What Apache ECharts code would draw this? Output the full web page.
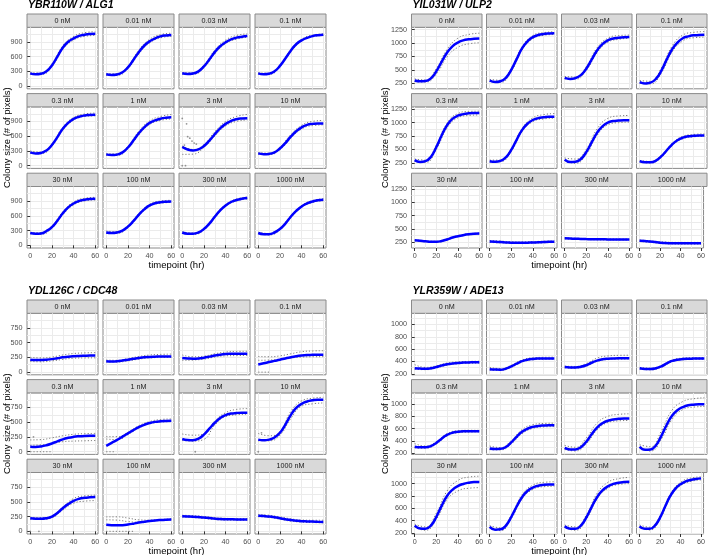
<!DOCTYPE html>
<html>
<head>
<meta charset="utf-8">
<title>Colony size over time</title>
<script src="https://cdn.jsdelivr.net/npm/echarts@6.0.0/dist/echarts.min.js"></script>
<style>
  html, body { margin: 0; padding: 0; background: #fff; }
  #chart { width: 708px; height: 555px; }
</style>
</head>
<body>
<div id="chart"></div>
<script>
// time grid of the fitted (blue) curves and of the replicate (grey) curves
var times = [0, 5, 10, 15, 20, 25, 30, 35, 40, 45, 50, 55, 60];
var repTimes = [0, 10, 20, 30, 40, 50, 60];
var doses = ['0 nM', '0.01 nM', '0.03 nM', '0.1 nM', '0.3 nM', '1 nM', '3 nM', '10 nM', '30 nM', '100 nM', '300 nM', '1000 nM'];

// ---- YBR110W / ALG1 ----
var alg1Fit = [
    [260, 240, 250, 300, 420, 600, 780, 900, 970, 1020, 1045, 1060, 1065],
    [240, 225, 235, 280, 380, 530, 690, 820, 910, 970, 1010, 1030, 1040],
    [260, 245, 255, 300, 400, 540, 690, 810, 890, 950, 985, 1005, 1020],
    [260, 240, 250, 300, 410, 560, 720, 850, 930, 980, 1015, 1035, 1045],
    [270, 250, 260, 310, 420, 580, 750, 870, 950, 995, 1020, 1030, 1035],
    [230, 215, 225, 270, 370, 510, 660, 780, 870, 920, 955, 975, 985],
    [380, 330, 310, 330, 400, 510, 640, 760, 850, 910, 945, 960, 965],
    [250, 235, 240, 270, 350, 460, 590, 700, 780, 830, 850, 860, 860],
    [250, 235, 240, 290, 370, 500, 650, 770, 850, 900, 925, 940, 945],
    [260, 250, 260, 300, 380, 490, 620, 730, 810, 855, 875, 885, 890],
    [260, 235, 235, 260, 330, 440, 580, 710, 810, 880, 920, 945, 960],
    [250, 225, 225, 260, 330, 440, 580, 700, 790, 850, 890, 915, 925]
];
var alg1Hi = [
    [275, 265, 450, 820, 1010, 1085, 1105],
    [255, 250, 405, 730, 950, 1045, 1075],
    [275, 270, 430, 730, 935, 1030, 1060],
    [272, 262, 425, 740, 950, 1035, 1060],
    [300, 275, 445, 780, 980, 1050, 1070],
    [245, 240, 395, 700, 910, 1000, 1040],
    [400, 330, 430, 690, 900, 1000, 1040],
    [265, 255, 380, 630, 820, 900, 920],
    [265, 255, 395, 680, 880, 955, 975],
    [290, 275, 400, 645, 835, 900, 915],
    [275, 250, 350, 600, 830, 940, 980],
    [265, 240, 350, 600, 810, 910, 945]
];
var alg1Lo = [
    [245, 235, 395, 745, 935, 1010, 1030],
    [225, 220, 355, 655, 875, 980, 1010],
    [245, 240, 375, 655, 860, 955, 990],
    [248, 238, 395, 700, 910, 1000, 1030],
    [255, 245, 400, 720, 925, 1000, 1015],
    [215, 210, 345, 625, 835, 920, 950],
    [230, 235, 370, 600, 810, 900, 930],
    [235, 225, 325, 555, 745, 815, 830],
    [235, 225, 345, 620, 820, 900, 920],
    [245, 245, 360, 600, 790, 855, 870],
    [245, 220, 310, 560, 790, 900, 940],
    [235, 210, 310, 560, 770, 870, 905]
];
var alg1Extra = [[], [], [], [], [], [], [], [], [], [], [], []];
var alg1Dots = [[], [], [], [], [], [],
    [[0, 960], [4, 850], [5, 590], [7, 560], [9, 500], [2, 420], [11, 460], [13, 440], [1, 380], [0, 0], [3, 0]],
    [], [], [], [], []];

// ---- YIL031W / ULP2 ----
var ulp2Fit = [
    [300, 285, 290, 340, 470, 650, 820, 940, 1010, 1050, 1070, 1080, 1085],
    [300, 270, 285, 350, 500, 700, 900, 1030, 1110, 1150, 1170, 1180, 1185],
    [350, 330, 345, 400, 520, 690, 860, 980, 1050, 1085, 1100, 1110, 1115],
    [270, 245, 260, 330, 480, 690, 880, 1010, 1090, 1125, 1145, 1150, 1155],
    [300, 265, 280, 360, 540, 760, 950, 1070, 1130, 1160, 1175, 1180, 1180],
    [280, 270, 285, 350, 490, 680, 860, 980, 1050, 1085, 1100, 1110, 1110],
    [310, 265, 270, 320, 450, 630, 810, 930, 1000, 1030, 1040, 1045, 1045],
    [280, 258, 260, 290, 370, 480, 590, 670, 720, 745, 755, 760, 760],
    [290, 280, 270, 262, 260, 275, 305, 340, 365, 385, 400, 410, 415],
    [265, 260, 255, 250, 245, 242, 242, 245, 248, 252, 256, 260, 262],
    [325, 322, 318, 315, 312, 310, 308, 307, 306, 305, 305, 304, 304],
    [280, 275, 265, 255, 245, 238, 235, 233, 232, 232, 232, 232, 232]
];
var ulp2Hi = [
    [330, 310, 520, 880, 1090, 1160, 1185],
    [320, 305, 530, 930, 1140, 1195, 1210],
    [375, 365, 560, 910, 1090, 1140, 1150],
    [300, 285, 530, 940, 1150, 1200, 1215],
    [320, 300, 580, 990, 1170, 1210, 1215],
    [300, 300, 520, 890, 1090, 1150, 1170],
    [340, 320, 500, 880, 1080, 1125, 1135],
    [295, 275, 390, 610, 745, 780, 790],
    [300, 280, 270, 315, 375, 410, 425],
    [285, 275, 262, 258, 265, 272, 278],
    [335, 328, 322, 318, 316, 314, 313],
    [295, 280, 262, 252, 250, 250, 250]
];
var ulp2Lo = [
    [280, 270, 420, 740, 920, 985, 1005],
    [285, 265, 470, 870, 1080, 1145, 1160],
    [330, 325, 490, 820, 1015, 1070, 1090],
    [245, 235, 440, 830, 1040, 1100, 1110],
    [285, 255, 500, 900, 1090, 1135, 1145],
    [265, 270, 465, 830, 1020, 1070, 1085],
    [290, 240, 410, 760, 960, 1000, 1010],
    [265, 245, 350, 570, 700, 735, 745],
    [280, 262, 252, 295, 355, 390, 405],
    [250, 240, 232, 228, 234, 242, 248],
    [315, 308, 302, 298, 296, 295, 294],
    [268, 252, 232, 222, 218, 218, 218]
];
var ulp2Extra = [[], [], [], [], [], [], [], [], [], [], [], []];
var ulp2Dots = [[], [], [], [], [], [], [], [], [], [], [], []];

// ---- YDL126C / CDC48 ----
var cdc48Fit = [
    [210, 205, 205, 210, 220, 235, 250, 262, 270, 275, 278, 280, 280],
    [185, 182, 185, 195, 210, 225, 240, 252, 258, 262, 265, 265, 265],
    [240, 232, 228, 232, 245, 262, 280, 295, 305, 310, 312, 312, 312],
    [130, 150, 170, 190, 210, 232, 252, 268, 280, 288, 292, 295, 296],
    [85, 82, 90, 110, 140, 175, 210, 235, 252, 262, 268, 270, 270],
    [100, 150, 200, 255, 310, 365, 415, 455, 485, 505, 515, 520, 522],
    [215, 198, 195, 220, 290, 390, 490, 570, 620, 645, 655, 660, 660],
    [205, 195, 205, 240, 320, 460, 620, 740, 810, 850, 870, 880, 880],
    [220, 212, 212, 222, 250, 310, 390, 460, 515, 550, 568, 576, 580],
    [112, 105, 102, 105, 115, 130, 148, 162, 175, 185, 192, 197, 200],
    [255, 252, 248, 242, 235, 225, 215, 208, 205, 203, 202, 202, 202],
    [265, 258, 250, 238, 222, 205, 190, 180, 172, 168, 165, 162, 160]
];
var cdc48Hi = [
    [250, 240, 255, 290, 315, 325, 330],
    [205, 200, 230, 265, 290, 300, 305],
    [290, 260, 270, 310, 340, 350, 352],
    [265, 260, 275, 310, 345, 358, 362],
    [200, 205, 235, 270, 295, 305, 310],
    [255, 255, 330, 440, 510, 545, 555],
    [300, 280, 300, 520, 660, 715, 730],
    [310, 270, 340, 680, 860, 905, 920],
    [240, 230, 265, 410, 555, 600, 612],
    [245, 245, 225, 195, 190, 200, 210],
    [272, 265, 252, 232, 220, 215, 215],
    [285, 272, 245, 212, 192, 188, 188]
];
var cdc48Lo = [
    [180, 175, 190, 215, 235, 240, 242],
    [170, 170, 190, 220, 240, 248, 250],
    [200, 205, 220, 255, 275, 280, 282],
    [200, 205, 220, 240, 255, 260, 262],
    [110, 115, 140, 170, 180, 185, 190],
    [215, 205, 290, 400, 470, 500, 510],
    [190, 180, 210, 450, 595, 625, 635],
    [185, 185, 280, 560, 770, 810, 825],
    [205, 200, 230, 360, 475, 510, 520],
    [195, 190, 165, 155, 170, 185, 195],
    [240, 232, 220, 200, 190, 188, 188],
    [248, 235, 205, 172, 155, 148, 145]
];
var cdc48Extra = [[], [], [],
    [[[0, 0], [10, 0]]],
    [[[0, 0], [20, 0]]],
    [[[0, 0], [8, 0]]],
    [], [], [],
    [[[0, 0], [26, 0]]],
    [], []];
var cdc48Dots = [[], [], [], [],
    [[3, 250]],
    [],
    [[12, 0]],
    [[0, 0], [3, 320]],
    [[0, 0], [8, 0]],
    [], [], []];

// ---- YLR359W / ADE13 ----
var ade13Fit = [
    [292, 285, 282, 290, 310, 335, 355, 368, 377, 382, 385, 388, 390],
    [275, 270, 268, 285, 320, 365, 405, 430, 442, 448, 450, 450, 450],
    [310, 305, 305, 315, 340, 380, 415, 435, 445, 450, 452, 452, 452],
    [290, 280, 278, 290, 320, 370, 410, 430, 440, 445, 447, 448, 448],
    [310, 300, 300, 320, 370, 440, 500, 535, 550, 558, 560, 560, 560],
    [280, 272, 275, 305, 380, 470, 550, 600, 630, 645, 652, 655, 655],
    [290, 265, 265, 300, 390, 510, 620, 690, 730, 750, 760, 765, 765],
    [310, 260, 265, 330, 480, 660, 810, 900, 950, 980, 990, 995, 995],
    [320, 275, 270, 320, 460, 640, 800, 900, 960, 995, 1015, 1025, 1025],
    [300, 255, 260, 320, 460, 630, 780, 880, 935, 965, 980, 985, 985],
    [310, 270, 270, 320, 450, 620, 780, 890, 955, 995, 1015, 1025, 1030],
    [310, 270, 270, 320, 450, 630, 800, 920, 990, 1035, 1060, 1075, 1085]
];
var ade13Hi = [
    [350, 305, 330, 375, 395, 402, 405],
    [305, 285, 340, 425, 460, 468, 470],
    [325, 320, 365, 455, 490, 500, 502],
    [305, 292, 335, 425, 455, 462, 463],
    [360, 320, 390, 520, 568, 575, 575],
    [320, 295, 410, 585, 665, 685, 690],
    [330, 300, 450, 690, 800, 832, 842],
    [340, 310, 560, 900, 1040, 1085, 1100],
    [345, 300, 520, 880, 1050, 1105, 1120],
    [320, 285, 490, 820, 975, 1020, 1030],
    [330, 300, 490, 840, 1020, 1080, 1100],
    [330, 295, 480, 830, 1020, 1090, 1110]
];
var ade13Lo = [
    [275, 268, 295, 340, 362, 370, 375],
    [262, 255, 305, 390, 428, 435, 437],
    [298, 292, 325, 400, 432, 438, 440],
    [278, 265, 305, 395, 427, 433, 435],
    [290, 285, 352, 482, 535, 545, 548],
    [262, 258, 355, 520, 605, 630, 635],
    [265, 240, 355, 580, 700, 728, 735],
    [285, 240, 430, 750, 910, 950, 960],
    [295, 245, 420, 740, 880, 925, 935],
    [285, 240, 435, 750, 905, 950, 958],
    [290, 245, 420, 750, 925, 985, 1000],
    [292, 250, 425, 775, 965, 1035, 1060]
];
var ade13Extra = [[], [], [], [], [], [], [], [], [], [], [], []];
var ade13Dots = [[], [], [], [], [], [], [], [], [], [], [], []];

// tick labels
var xTicks = [0, 20, 40, 60];
var xMinorTicks = [10, 30, 50];

// ---- layout ----
var FONT = 'Liberation Sans';
var stripH = 13.3, plotH = 61.5, rowStep = 79.6;
var xMin = -2.98, xMax = 62.48;

var quads = [
    { title: 'YBR110W / ALG1', fit: alg1Fit, hi: alg1Hi, lo: alg1Lo, extra: alg1Extra, dots: alg1Dots,
      yMin: -55, yMax: 1195, yTicks: [0, 300, 600, 900], yMinor: [150, 450, 750, 1050],
      left: 27, top: 14, colW: 71, colStep: 76, yTitleX: 7.5 },
    { title: 'YIL031W / ULP2', fit: ulp2Fit, hi: ulp2Hi, lo: ulp2Lo, extra: ulp2Extra, dots: ulp2Dots,
      yMin: 145, yMax: 1295, yTicks: [250, 500, 750, 1000, 1250], yMinor: [375, 625, 875, 1125],
      left: 411.5, top: 14, colW: 70.5, colStep: 75, yTitleX: 385.5 },
    { title: 'YDL126C / CDC48', fit: cdc48Fit, hi: cdc48Hi, lo: cdc48Lo, extra: cdc48Extra, dots: cdc48Dots,
      yMin: -45, yMax: 995, yTicks: [0, 250, 500, 750], yMinor: [125, 375, 625, 875],
      left: 27, top: 300, colW: 71, colStep: 76, yTitleX: 7.5 },
    { title: 'YLR359W / ADE13', fit: ade13Fit, hi: ade13Hi, lo: ade13Lo, extra: ade13Extra, dots: ade13Dots,
      yMin: 185, yMax: 1180, yTicks: [200, 400, 600, 800, 1000], yMinor: [300, 500, 700, 900, 1100],
      left: 411.5, top: 300, colW: 70.5, colStep: 75, yTitleX: 385.5 }
];

function pairs(ts, vs) {
    return vs.map(function (v, i) { return [ts[i], v]; });
}

var grids = [], xAxes = [], yAxes = [], series = [], graphics = [];

quads.forEach(function (q) {
    var totalW = q.colStep * 3 + q.colW;
    var plotBottom = q.top + 2 * rowStep + stripH + plotH;
    // panel title
    graphics.push({
        type: 'text', x: q.left + 1, y: q.top - 8.5,
        style: { text: q.title, font: 'italic bold 10.5px ' + FONT, fill: '#000', verticalAlign: 'middle', textVerticalAlign: 'middle' }
    });
    // axis titles
    graphics.push({
        type: 'text', x: q.left + totalW / 2, y: plotBottom + 17,
        style: { text: 'timepoint (hr)', font: '9.5px ' + FONT, fill: '#000', align: 'center', verticalAlign: 'middle', textAlign: 'center', textVerticalAlign: 'middle' }
    });
    graphics.push({
        type: 'text', x: q.yTitleX, y: q.top + stripH + (2 * rowStep + plotH) / 2, rotation: Math.PI / 2,
        style: { text: 'Colony size (# of pixels)', font: '9.5px ' + FONT, fill: '#000', align: 'center', verticalAlign: 'middle', textAlign: 'center', textVerticalAlign: 'middle' }
    });

    for (var k = 0; k < 12; k++) {
        var r = Math.floor(k / 4), c = k % 4;
        var gx = q.left + c * q.colStep;
        var gy = q.top + r * rowStep;
        var g = grids.length;

        // strip
        graphics.push({
            type: 'rect', shape: { x: gx, y: gy, width: q.colW, height: stripH },
            style: { fill: '#d9d9d9', stroke: '#8a8a8a', lineWidth: 1 }
        });
        graphics.push({
            type: 'text', x: gx + q.colW / 2, y: gy + stripH / 2 + 0.5,
            style: { text: doses[k], font: '7.2px ' + FONT, fill: '#1a1a1a', align: 'center', verticalAlign: 'middle', textAlign: 'center', textVerticalAlign: 'middle' }
        });

        grids.push({
            left: gx, top: gy + stripH, width: q.colW, height: plotH,
            show: true, backgroundColor: '#fff', borderColor: '#8a8a8a', borderWidth: 1
        });

        // hidden axes carrying the major + minor grid lines
        xAxes.push({
            type: 'value', gridIndex: g, position: 'top', min: xMin, max: xMax,
            axisLine: { show: false }, axisLabel: { show: false },
            axisTick: { show: false, customValues: xTicks.concat(xMinorTicks) },
            splitLine: { show: true, lineStyle: { color: '#ebebeb', width: 1 } }
        });
        yAxes.push({
            type: 'value', gridIndex: g, position: 'right', min: q.yMin, max: q.yMax,
            axisLine: { show: false }, axisLabel: { show: false },
            axisTick: { show: false, customValues: q.yTicks.concat(q.yMinor) },
            splitLine: { show: true, lineStyle: { color: '#ebebeb', width: 1 } }
        });
        // visible axes
        var xi = xAxes.length;
        xAxes.push({
            type: 'value', gridIndex: g, position: 'bottom', min: xMin, max: xMax,
            axisLine: { show: false }, splitLine: { show: false },
            axisTick: { show: r === 2, customValues: xTicks, length: 3, lineStyle: { color: '#333' } },
            axisLabel: { show: r === 2, customValues: xTicks, fontSize: 7.2, fontFamily: FONT, color: '#4d4d4d', margin: 4.5,
                formatter: function (v) { return String(v); } }
        });
        var yi = yAxes.length;
        yAxes.push({
            type: 'value', gridIndex: g, position: 'left', min: q.yMin, max: q.yMax,
            axisLine: { show: false }, splitLine: { show: false },
            axisTick: { show: c === 0, customValues: q.yTicks, length: 3, lineStyle: { color: '#333' } },
            axisLabel: { show: c === 0, customValues: q.yTicks, fontSize: 7.2, fontFamily: FONT, color: '#4d4d4d', margin: 4.5,
                formatter: function (v) { return String(v); } }
        });

        var grey = { color: '#7a7a7a', width: 1, type: [1.2, 2] };
        series.push({
            type: 'line', xAxisIndex: xi, yAxisIndex: yi, z: 2, smooth: true, showSymbol: false, silent: true,
            data: pairs(repTimes, q.hi[k]), lineStyle: grey
        });
        series.push({
            type: 'line', xAxisIndex: xi, yAxisIndex: yi, z: 2, smooth: true, showSymbol: false, silent: true,
            data: pairs(repTimes, q.lo[k]), lineStyle: grey
        });
        q.extra[k].forEach(function (seg) {
            series.push({
                type: 'line', xAxisIndex: xi, yAxisIndex: yi, z: 2, showSymbol: false, silent: true,
                data: seg, lineStyle: grey
            });
        });
        if (q.dots[k].length) {
            series.push({
                type: 'scatter', xAxisIndex: xi, yAxisIndex: yi, z: 2, silent: true,
                symbolSize: 1.8, itemStyle: { color: '#7a7a7a' }, data: q.dots[k]
            });
        }
        series.push({
            type: 'line', xAxisIndex: xi, yAxisIndex: yi, z: 3, smooth: true, showSymbol: false, silent: true,
            data: pairs(times, q.fit[k]), lineStyle: { color: '#0000ff', width: 2.5 }
        });
    }
});

var myChart = echarts.init(document.getElementById('chart'));
var option = {
    animation: false,
    backgroundColor: '#fff',
    grid: grids,
    xAxis: xAxes,
    yAxis: yAxes,
    series: series,
    graphic: graphics
};
myChart.setOption(option);
</script>
</body>
</html>
